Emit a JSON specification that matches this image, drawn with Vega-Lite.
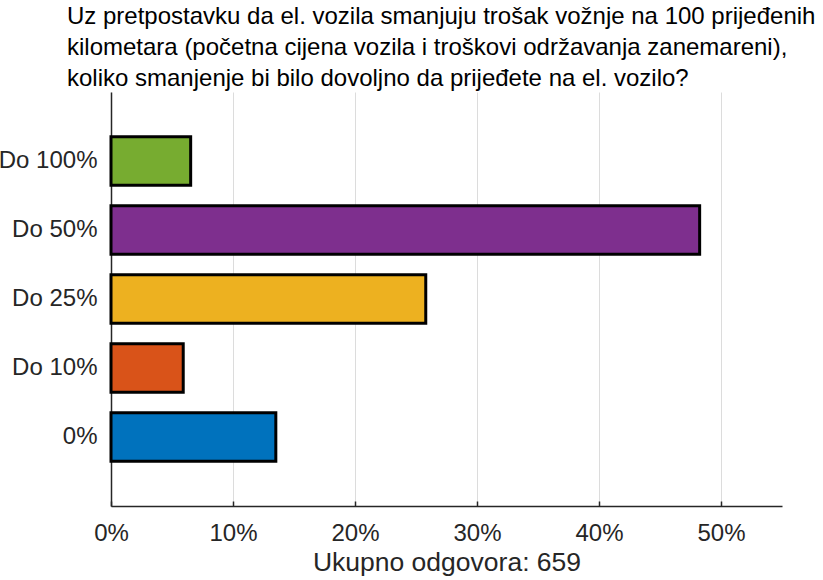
{
  "$schema": "https://vega.github.io/schema/vega-lite/v6.json",
  "autosize": {"type": "none"},
  "padding": {"left": 111, "top": 92, "right": 41, "bottom": 74},
  "width": 671,
  "height": 414,
  "background": "white",
  "title": {
    "text": ["Uz pretpostavku da el. vozila smanjuju trošak vožnje na 100 prijeđenih", "kilometara (početna cijena vozila i troškovi održavanja zanemareni),", "koliko smanjenje bi bilo dovoljno da prijeđete na el. vozilo?"],
    "anchor": "start",
    "frame": "group",
    "dx": -44,
    "dy": 24,
    "offset": 1,
    "baseline": "bottom",
    "font": "Liberation Sans",
    "fontSize": 24,
    "fontWeight": "normal",
    "lineHeight": 31,
    "color": "#000000"
  },
  "data": {
    "values": [
      {"category": "Do 100%", "pct": 6.53},
      {"category": "Do 50%", "pct": 48.25},
      {"category": "Do 25%", "pct": 25.80},
      {"category": "Do 10%", "pct": 5.92},
      {"category": "0%", "pct": 13.51}
    ]
  },
  "mark": {"type": "bar", "stroke": "#000000", "strokeWidth": 3, "opacity": 1},
  "encoding": {
    "y": {
      "field": "category",
      "type": "nominal",
      "sort": ["Do 100%", "Do 50%", "Do 25%", "Do 10%", "0%"],
      "scale": {"paddingInner": 0.3, "paddingOuter": 0.65},
      "axis": {
        "title": null,
        "ticks": false,
        "grid": false,
        "labelFont": "Liberation Sans",
        "labelFontSize": 24,
        "labelColor": "#262626",
        "labelPadding": 14,
        "domainColor": "#262626",
        "domainWidth": 1.5
      }
    },
    "x": {
      "field": "pct",
      "type": "quantitative",
      "scale": {"domain": [0, 55], "nice": false},
      "axis": {
        "title": "Ukupno odgovora: 659",
        "titleFont": "Liberation Sans",
        "titleFontSize": 26.5,
        "titleFontWeight": "normal",
        "titleColor": "#262626",
        "titlePadding": 4,
        "values": [0, 10, 20, 30, 40, 50],
        "labelExpr": "datum.value + '%'",
        "labelFlush": false,
        "labelFont": "Liberation Sans",
        "labelFontSize": 24,
        "labelColor": "#262626",
        "labelPadding": 20,
        "tickSize": -5,
        "tickColor": "#262626",
        "tickWidth": 1.5,
        "domainColor": "#262626",
        "domainWidth": 1.5,
        "grid": true,
        "gridColor": "#dcdcdc",
        "gridWidth": 1
      }
    },
    "color": {
      "field": "category",
      "type": "nominal",
      "scale": {
        "domain": ["Do 100%", "Do 50%", "Do 25%", "Do 10%", "0%"],
        "range": ["#77AC30", "#7E2F8E", "#EDB120", "#D95319", "#0072BD"]
      },
      "legend": null
    }
  },
  "config": {"view": {"stroke": null}}
}
